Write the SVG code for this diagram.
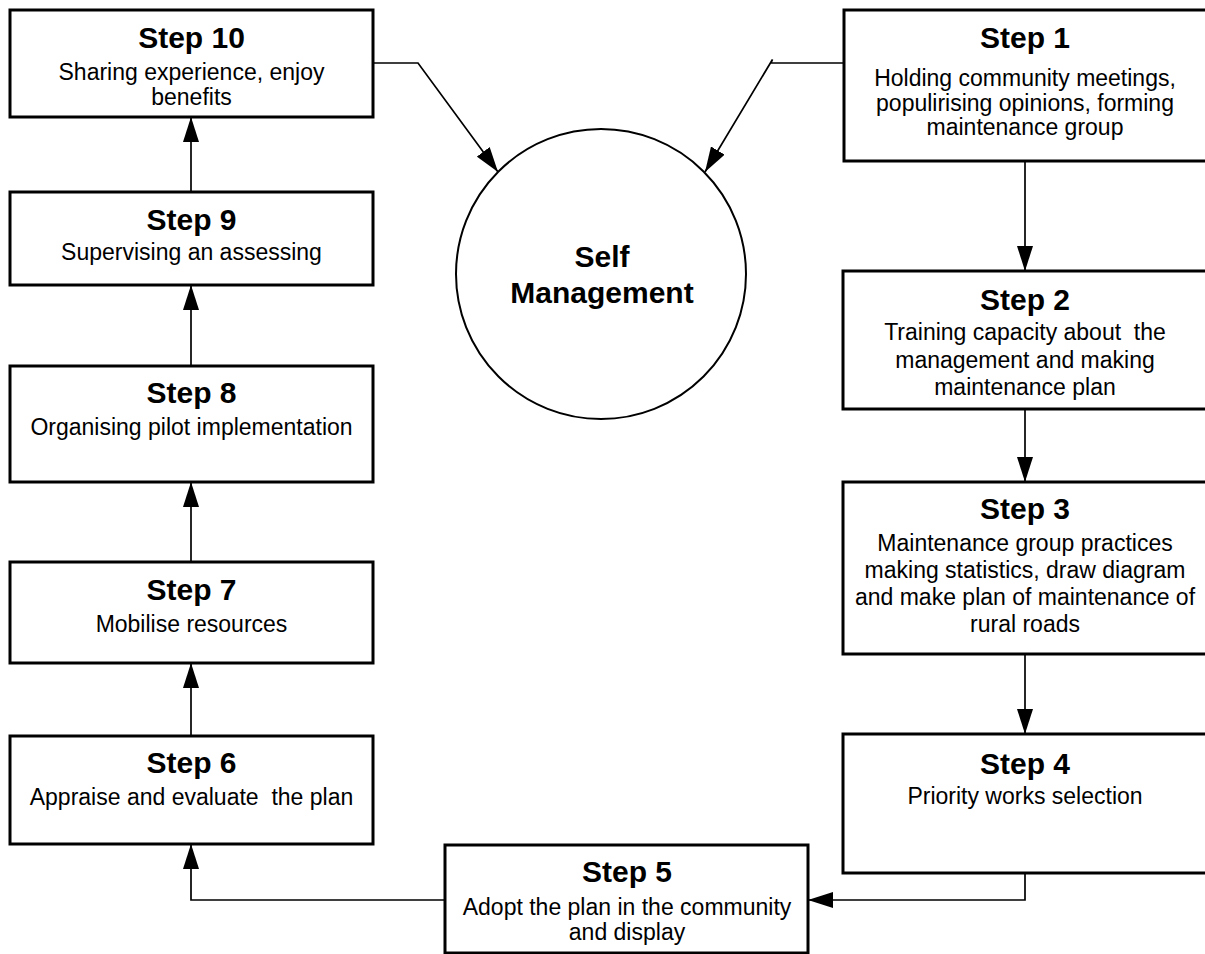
<svg xmlns="http://www.w3.org/2000/svg" width="1205" height="954" viewBox="0 0 1205 954">
  <style>
    .box { fill: #ffffff; stroke: #000000; stroke-width: 3; }
    .hub { fill: #ffffff; stroke: #000000; stroke-width: 2; }
    .title { font-family: "Liberation Sans", Arial, sans-serif; font-size: 30px; font-weight: bold; fill: #000000; text-anchor: middle; }
    .body { font-family: "Liberation Sans", Arial, sans-serif; font-size: 23px; fill: #000000; text-anchor: middle; }
    .link { fill: none; stroke: #000000; stroke-width: 1.7; marker-end: url(#head); }
  </style>
  <defs>
    <marker id="head" markerUnits="userSpaceOnUse" markerWidth="26" markerHeight="16" refX="25" refY="8" orient="auto">
      <path d="M0,0 L25,8 L0,16 Z" fill="#000000"/>
    </marker>
  </defs>
  <rect width="1205" height="954" fill="#ffffff"/>

  <!-- connectors -->
  <g id="connectors">
    <path class="link" d="M1025,161 V271"/>
    <path class="link" d="M1025,409 V482"/>
    <path class="link" d="M1025,654 V734"/>
    <path class="link" d="M1025,873 V900 H808"/>
    <path class="link" d="M445,900 H191 V844"/>
    <path class="link" d="M191,736 V663"/>
    <path class="link" d="M191,562 V482"/>
    <path class="link" d="M191,366 V285"/>
    <path class="link" d="M191,192 V117"/>
    <path class="link" d="M373,63 H418 L498,172"/>
    <path class="link" d="M844,63 H771 L772.5,59.5 L705,172"/>
  </g>

  <!-- central hub -->
  <g id="self-management">
    <circle class="hub" cx="601" cy="274" r="145"/>
    <text class="title" x="602" y="267">Self</text>
    <text class="title" x="602" y="303">Management</text>
  </g>

  <!-- right column: steps 1-4 -->
  <g id="step1">
    <rect class="box" x="844" y="10" width="365" height="151"/>
    <text class="title" x="1025" y="48">Step 1</text>
    <text class="body" x="1025" y="86">Holding community meetings,</text>
    <text class="body" x="1025" y="111">populirising opinions, forming</text>
    <text class="body" x="1025" y="135">maintenance group</text>
  </g>
  <g id="step2">
    <rect class="box" x="843" y="271" width="365" height="138"/>
    <text class="title" x="1025" y="310">Step 2</text>
    <text class="body" x="1025" y="340" xml:space="preserve">Training capacity about  the</text>
    <text class="body" x="1025" y="368">management and making</text>
    <text class="body" x="1025" y="395">maintenance plan</text>
  </g>
  <g id="step3">
    <rect class="box" x="843" y="482" width="365" height="172"/>
    <text class="title" x="1025" y="519">Step 3</text>
    <text class="body" x="1025" y="551">Maintenance group practices</text>
    <text class="body" x="1025" y="578">making statistics, draw diagram</text>
    <text class="body" x="1025" y="605">and make plan of maintenance of</text>
    <text class="body" x="1025" y="632">rural roads</text>
  </g>
  <g id="step4">
    <rect class="box" x="843" y="734" width="365" height="139"/>
    <text class="title" x="1025" y="774">Step 4</text>
    <text class="body" x="1025" y="804">Priority works selection</text>
  </g>

  <!-- bottom: step 5 -->
  <g id="step5">
    <rect class="box" x="445" y="845" width="363" height="108"/>
    <text class="title" x="627" y="882">Step 5</text>
    <text class="body" x="627" y="915">Adopt the plan in the community</text>
    <text class="body" x="627" y="940">and display</text>
  </g>

  <!-- left column: steps 6-10 -->
  <g id="step6">
    <rect class="box" x="10" y="736" width="363" height="108"/>
    <text class="title" x="191.5" y="773">Step 6</text>
    <text class="body" x="191.5" y="805" xml:space="preserve">Appraise and evaluate  the plan</text>
  </g>
  <g id="step7">
    <rect class="box" x="10" y="562" width="363" height="101"/>
    <text class="title" x="191.5" y="600">Step 7</text>
    <text class="body" x="191.5" y="632">Mobilise resources</text>
  </g>
  <g id="step8">
    <rect class="box" x="10" y="366" width="363" height="116"/>
    <text class="title" x="191.5" y="403">Step 8</text>
    <text class="body" x="191.5" y="435">Organising pilot implementation</text>
  </g>
  <g id="step9">
    <rect class="box" x="10" y="192" width="363" height="93"/>
    <text class="title" x="191.5" y="230">Step 9</text>
    <text class="body" x="191.5" y="260">Supervising an assessing</text>
  </g>
  <g id="step10">
    <rect class="box" x="10" y="10" width="363" height="107"/>
    <text class="title" x="191.5" y="48">Step 10</text>
    <text class="body" x="191.5" y="80">Sharing experience, enjoy</text>
    <text class="body" x="191.5" y="105">benefits</text>
  </g>
</svg>
